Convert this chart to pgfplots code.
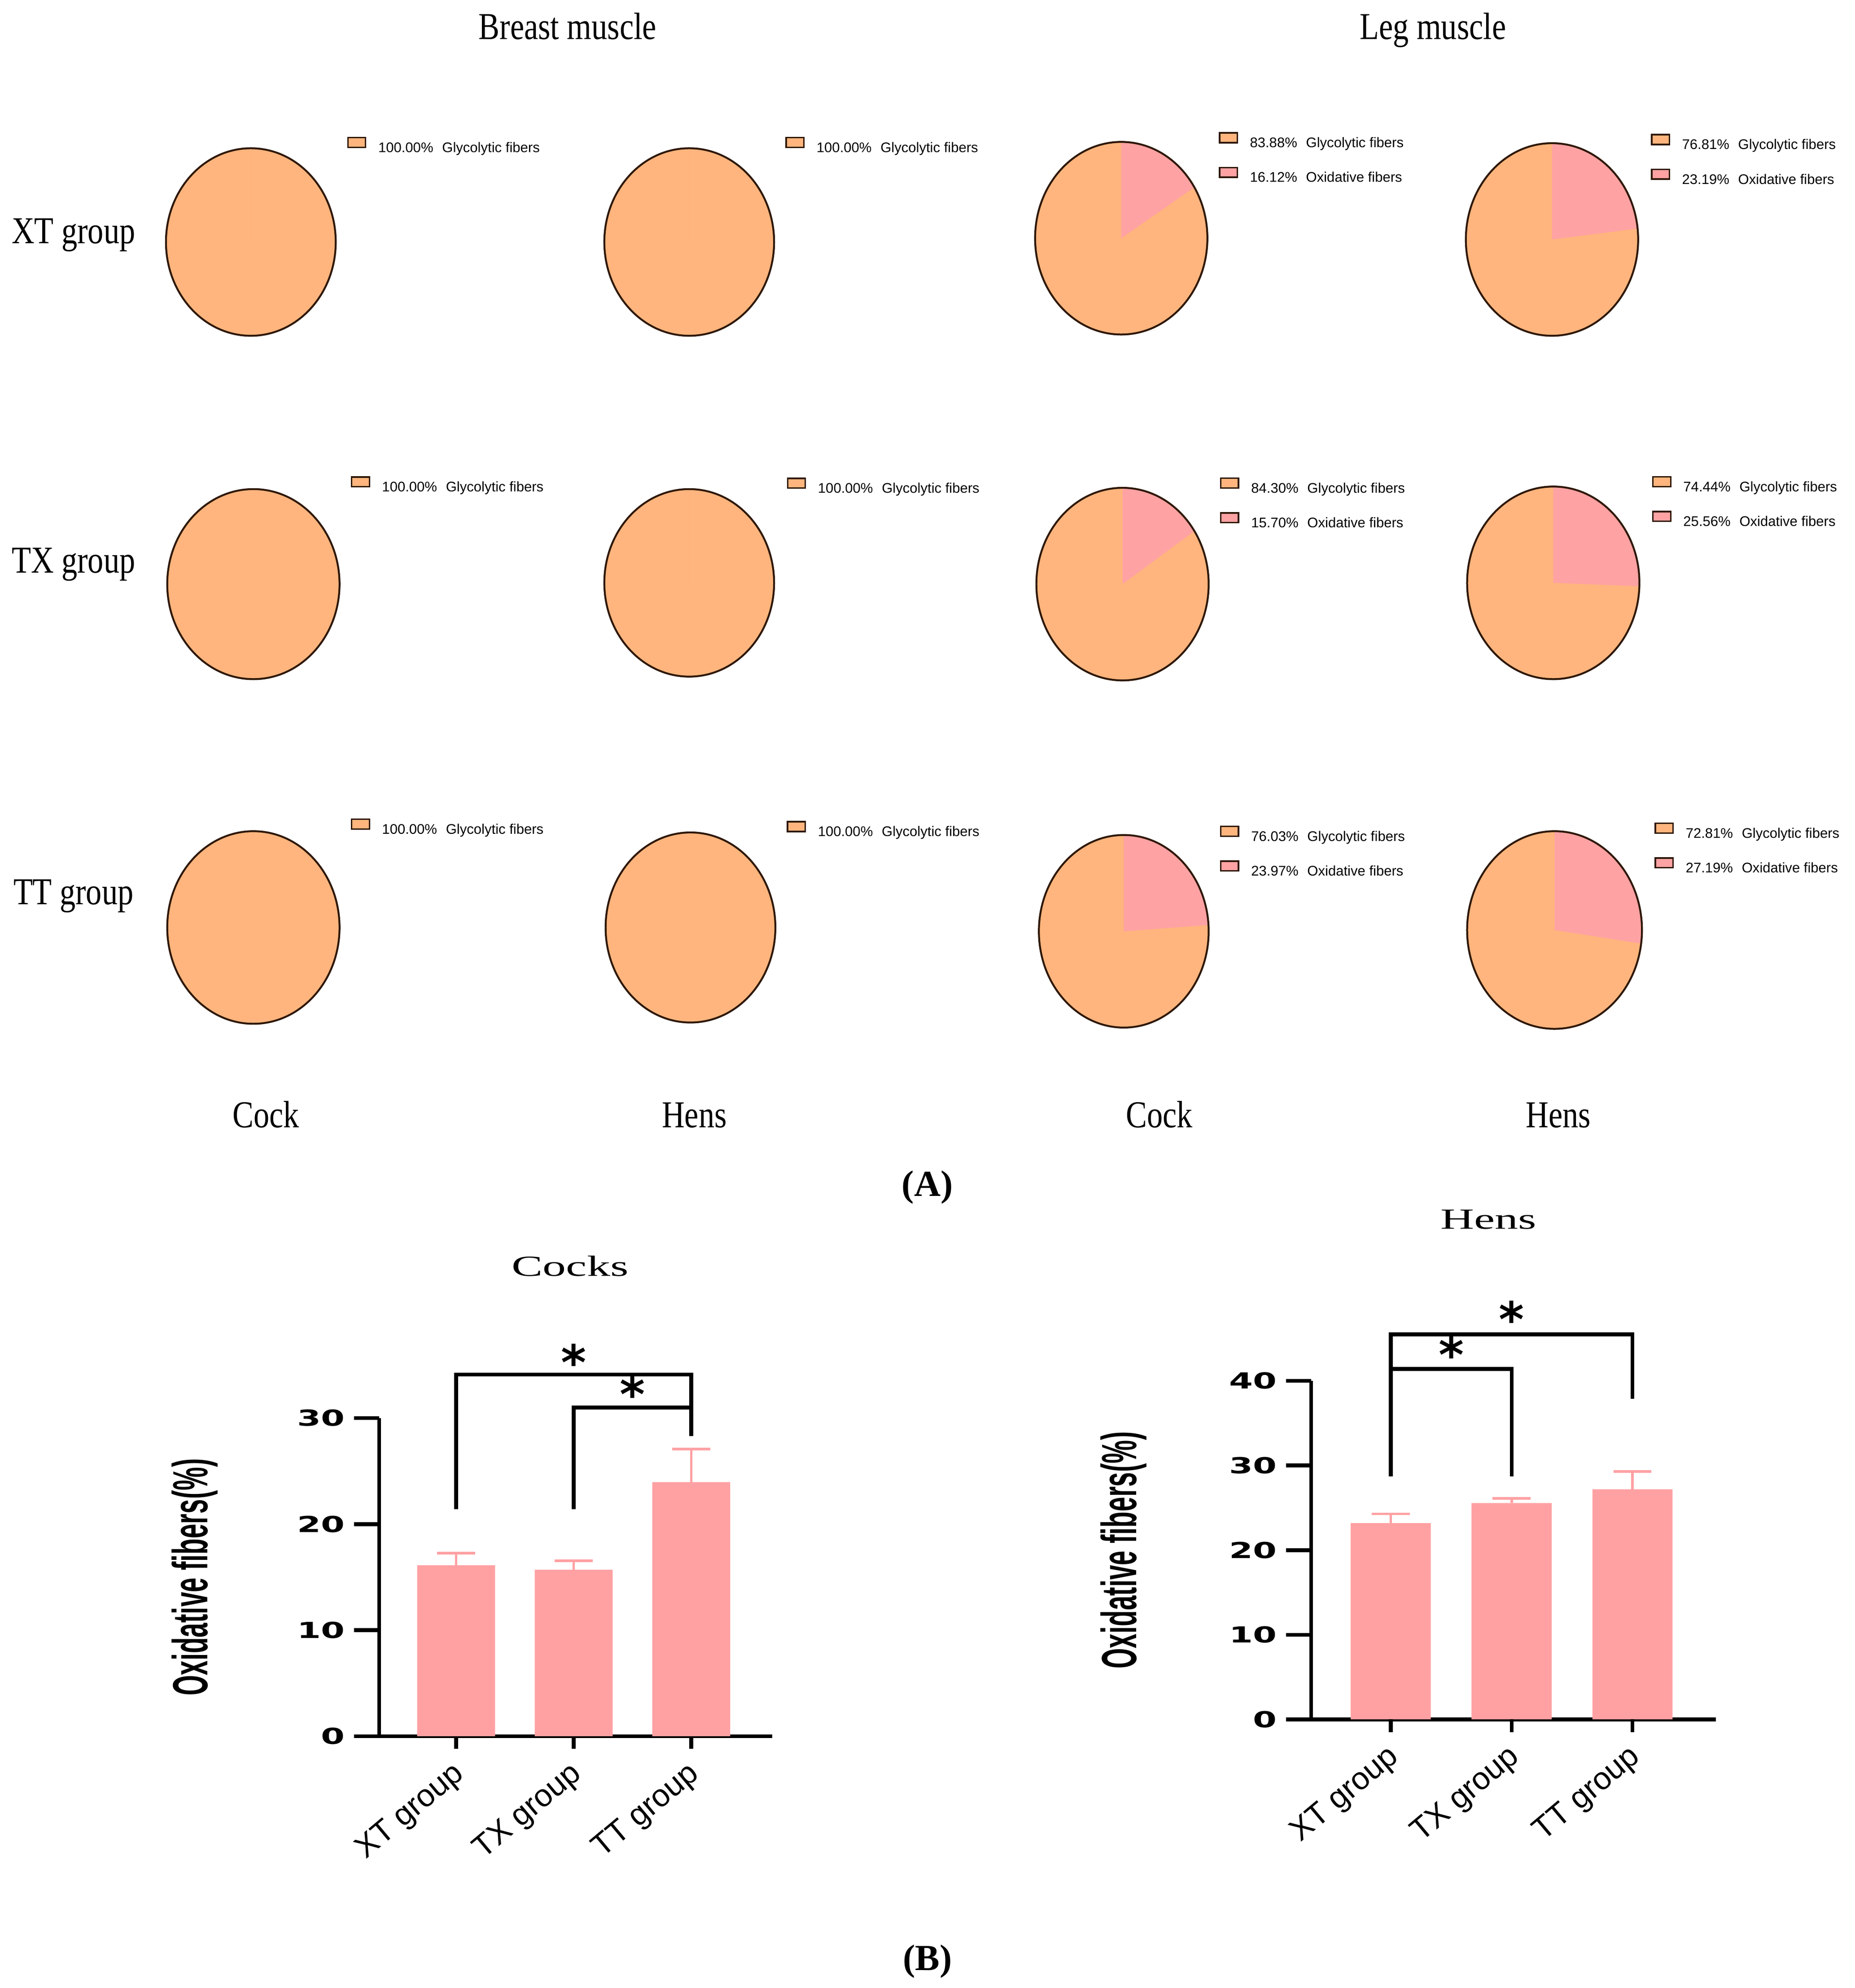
\documentclass[border=0pt]{standalone}
\usepackage{pgfplots}
\pgfplotsset{compat=1.18}
\usepackage{fontspec}
\setmainfont{Liberation Serif}
\newfontfamily\condserif{Liberation Serif}[FakeStretch=0.83]
\newfontfamily\wideserif{Liberation Serif}[FakeStretch=1.6]
\newfontfamily\lsans{Liberation Sans}
\newfontfamily\condsans{Liberation Sans Bold}[FakeStretch=0.53]
\newfontfamily\wbold{DejaVu Sans Bold}[FakeStretch=1.55]
\newfontfamily\sbold{DejaVu Sans Bold}

\definecolor{glyc}{HTML}{FFB57D}
\definecolor{oxid}{HTML}{FFA2A4}
\definecolor{outl}{HTML}{2E1808}
\definecolor{barpink}{HTML}{FFA1A3}

\tikzset{sigstar/.style={font=\sbold\fontsize{19}{21}\selectfont, inner sep=0pt, yshift=-2.9pt}}

\pgfplotsset{
  pie/.style={
    scale only axis, hide axis, anchor=center, clip=false,
    xmin=-1, xmax=1, ymin=-1, ymax=1,
    legend cell align=left,
    legend style={anchor=west, draw=none, fill=none, inner sep=0pt, outer sep=0pt,
      row sep=7.6pt, column sep=4.7pt,
      font=\lsans\fontsize{5.5}{6.5}\selectfont,
      nodes={inner sep=0pt, text height=3.85pt, text depth=0pt}},
    legend image code/.code={\draw[##1] (0pt,0pt) rectangle (7pt,3.85pt);},
  },
  fibbar/.style={
    scale only axis, anchor=south west, clip=false, enlargelimits=false,
    axis x line=bottom, axis y line=left,
    axis line style={line width=1.5pt,-},
    tick style={black, line width=1.5pt},
    major tick length=10pt, tick align=outside,
    xtick style={draw=none},
    xtick={0,1,2}, xticklabels={XT group,TX group,TT group},
    xticklabel style={xshift=-2pt, yshift=1pt, rotate=40, anchor=north east, inner sep=0pt,
      font=\lsans\fontsize{12.4}{14}\selectfont},
    yticklabel style={font=\wbold\fontsize{8.7}{10}\selectfont},
    /pgf/number format/assume math mode=true,
    ylabel={Oxidative fibers(\%)},
    ylabel style={font=\condsans\fontsize{19.5}{22}\selectfont, anchor=center},
    ymin=0,
  },
  errs/.style={ybar, bar width=0.663, fill=barpink, draw=none,
    error bars/.cd, y dir=plus, y explicit, error mark=|,
    error bar style={barpink, line width=1pt},
    error mark options={barpink, line width=1pt, mark size=7.5pt}},
  brk/.style={black, line width=1.5pt},
}

% one pie: cx cy rx ry oxidative% legend-x legend-y entries (display px, 1px = 0.5pt)
\newcommand{\pie}[8]{%
  \begin{axis}[pie, at={({#1*0.5pt},{-#2*0.5pt})}, width=#3pt, height=#4pt,
      legend style={at={(axis description cs:#6,#7)}}]
    \fill[glyc] (axis cs:0,0) ellipse[x radius={#3*0.5pt}, y radius={#4*0.5pt}];
    \fill[oxid] (axis cs:0,0) -- (axis cs:0,1)
      arc[start angle=90, end angle={90-3.6*#5}, x radius={#3*0.5pt}, y radius={#4*0.5pt}] -- cycle;
    \draw[outl, line width=0.75pt] (axis cs:0,0) ellipse[x radius={#3*0.5pt}, y radius={#4*0.5pt}];
    #8
  \end{axis}}
\newcommand{\gl}[1]{\addlegendimage{fill=glyc,draw=outl,line width=0.6pt}%
  \addlegendentry{#1\%\hspace{3.5pt}Glycolytic fibers}}
\newcommand{\ox}[1]{\addlegendimage{fill=oxid,draw=outl,line width=0.6pt}%
  \addlegendentry{#1\%\hspace{3.5pt}Oxidative fibers}}

\begin{document}
\begin{tikzpicture}[x=0.5pt, y=-0.5pt]
\useasboundingbox (0,0) rectangle (1464,1569);

% ---- panel A: text
\begin{scope}[every node/.style={anchor=base, font=\condserif\fontsize{15}{18}\selectfont}]
  \node at (448,31) {Breast muscle};
  \node at (1131,31) {Leg muscle};
  \node at (58,192) {XT group};
  \node at (58,452) {TX group};
  \node at (58,714) {TT group};
  \node at (210,890) {Cock};
  \node at (548,890) {Hens};
  \node at (915,890) {Cock};
  \node at (1230,890) {Hens};
\end{scope}
\node[anchor=base, font=\bfseries\fontsize{14.5}{17}\selectfont] at (732,944) {(A)};
\node[anchor=base, font=\bfseries\fontsize{14.5}{17}\selectfont] at (732,1555) {(B)};

% ---- panel A: pies
\pie{198}{191}{67}{74}{0}{1.067}{1.020}{\gl{100.00}}
\pie{544}{191}{67}{74}{0}{1.067}{1.020}{\gl{100.00}}
\pie{885}{188}{68}{76}{16.12}{1.066}{0.921}{\gl{83.88}\ox{16.12}}
\pie{1225}{189}{68}{76}{23.19}{1.074}{0.918}{\gl{76.81}\ox{23.19}}

\pie{200}{461}{68}{75}{0}{1.066}{1.027}{\gl{100.00}}
\pie{544}{460}{67}{74}{0}{1.075}{1.020}{\gl{100.00}}
\pie{886}{461}{68}{76}{15.70}{1.066}{0.924}{\gl{84.30}\ox{15.70}}
\pie{1226}{460}{68}{76}{25.56}{1.074}{0.924}{\gl{74.44}\ox{25.56}}

\pie{200}{732}{68}{76}{0}{1.066}{1.026}{\gl{100.00}}
\pie{545}{732}{67}{75}{0}{1.067}{1.020}{\gl{100.00}}
\pie{887}{735}{67}{76}{23.97}{1.067}{0.918}{\gl{76.03}\ox{23.97}}
\pie{1227}{734}{69}{78}{27.19}{1.072}{0.917}{\gl{72.81}\ox{27.19}}

% ---- panel B: titles
\node[anchor=base, font=\wideserif\fontsize{11.5}{14}\selectfont] at (450,1007) {Cocks};
\node[anchor=base, font=\wideserif\fontsize{11.5}{14}\selectfont] at (1175,970) {Hens};

% ---- panel B: cocks
\begin{axis}[fibbar, at={(149.65pt,-685.1pt)}, width=155.15pt, height=125.5pt,
    xmin=-0.654, xmax=2.69, ymax=30, ytick={0,10,20,30},
    ylabel style={at={(axis description cs:-0.469,0.5)}}]
  \addplot[errs] coordinates {(0,16.12) +- (0,1.15) (1,15.70) +- (0,0.85) (2,23.97) +- (0,3.1)};
  \addplot[brk] coordinates {(0,0) (0,-1.2)};
  \addplot[brk] coordinates {(1,0) (1,-1.2)};
  \addplot[brk] coordinates {(2,0) (2,-1.2)};
  \addplot[brk] coordinates {(0,21.4) (0,34.1) (2,34.1) (2,28.3)};
  \addplot[brk] coordinates {(1,21.4) (1,31.0) (2,31.0)};
  \node[sigstar] at (axis cs:1,36.0) {*};
  \node[sigstar] at (axis cs:1.5,33.0) {*};
\end{axis}

% ---- panel B: hens
\begin{axis}[fibbar, at={(517.45pt,-678.5pt)}, width=159.65pt, height=133.6pt,
    xmin=-0.659, xmax=2.689, ymax=40, ytick={0,10,20,30,40},
    ylabel style={at={(axis description cs:-0.464,0.5)}}]
  \addplot[errs] coordinates {(0,23.19) +- (0,1.1) (1,25.56) +- (0,0.55) (2,27.19) +- (0,2.1)};
  \addplot[brk] coordinates {(0,0) (0,-1.5)};
  \addplot[brk] coordinates {(1,0) (1,-1.5)};
  \addplot[brk] coordinates {(2,0) (2,-1.5)};
  \addplot[brk] coordinates {(0,28.7) (0,45.5) (2,45.5) (2,37.9)};
  \addplot[brk] coordinates {(0,41.4) (1,41.4) (1,28.7)};
  \node[sigstar] at (axis cs:1,48.2) {*};
  \node[sigstar] at (axis cs:0.5,44.0) {*};
\end{axis}
\end{tikzpicture}
\end{document}
